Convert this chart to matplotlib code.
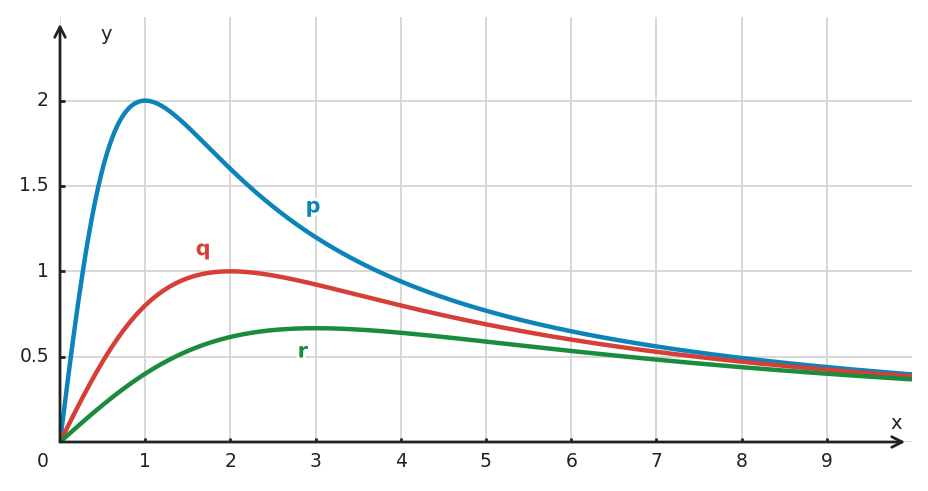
import numpy as np
import matplotlib
matplotlib.use("Agg")
import matplotlib.pyplot as plt
import matplotlib.patheffects as pe

# Curves: f(x) = 4x / (x^2 + a^2), peak at x=a
names = ["p", "q", "r"]
peak_x = [1, 2, 3]
colors = ["#0c84ba", "#d63f38", "#1a8c3e"]
label_x = [2.97, 1.68, 2.85]
label_y = [1.38, 1.13, 0.53]

x_ticks = [1, 2, 3, 4, 5, 6, 7, 8, 9]
y_ticks = [0.5, 1, 1.5, 2]
y_tick_labels = ["0.5", "1", "1.5", "2"]

fig = plt.figure(figsize=(9.29, 4.91), dpi=100)
ax = fig.add_axes([60/929, 1-442/491, (912-60)/929, (442-17)/491])
ax.set_xlim(0, 10)
ax.set_ylim(0, 2.49)

for v in range(0, 10):
    ax.axvline(v, color="#d4d4d4", lw=1.3, zorder=0)
for v in [0] + y_ticks:
    ax.axhline(v, color="#d4d4d4", lw=1.3, zorder=0)

x = np.linspace(0, 10, 800)
for n, a, c, lx, ly in zip(names, peak_x, colors, label_x, label_y):
    y = 4 * x / (x**2 + a**2)
    ax.plot(x, y, color=c, lw=3.2, zorder=3, solid_capstyle="butt")
    ax.text(lx, ly, n, color=c, fontsize=15, fontweight="bold", ha="center", va="center",
            zorder=4, path_effects=[pe.withStroke(linewidth=4, foreground="white")])

for s in ax.spines.values():
    s.set_visible(False)
ax.set_xticks([])
ax.set_yticks([])

axc = "#222222"
astyle = "->,head_length=0.75,head_width=0.38"
ax.annotate("", xy=(10.0 - 0.08, 0), xytext=(0, 0),
            arrowprops=dict(arrowstyle=astyle, color=axc, lw=2, shrinkA=0, shrinkB=0),
            zorder=5, annotation_clip=False)
ax.annotate("", xy=(0, 2.45), xytext=(0, 0),
            arrowprops=dict(arrowstyle=astyle, color=axc, lw=2, shrinkA=0, shrinkB=0),
            zorder=5, annotation_clip=False)

fs = 13.5
for t in x_ticks:
    ax.plot([t, t], [0, 0.025], color=axc, lw=2, zorder=5, solid_capstyle="butt")
    ax.text(t, -0.117, str(t), ha="center", va="center", fontsize=fs, color=axc)
for t, lab in zip(y_ticks, y_tick_labels):
    ax.plot([0, 0.06], [t, t], color=axc, lw=2, zorder=5, solid_capstyle="butt")
    ax.text(-0.13, t, lab, ha="right", va="center", fontsize=fs, color=axc)
ax.text(-0.2, -0.117, "0", ha="center", va="center", fontsize=fs, color=axc)
ax.text(0.54, 2.39, "y", ha="center", va="center", fontsize=14, color=axc)
ax.text(9.82, 0.11, "x", ha="center", va="center", fontsize=14, color=axc)

fig.savefig("out.png", dpi=100)
